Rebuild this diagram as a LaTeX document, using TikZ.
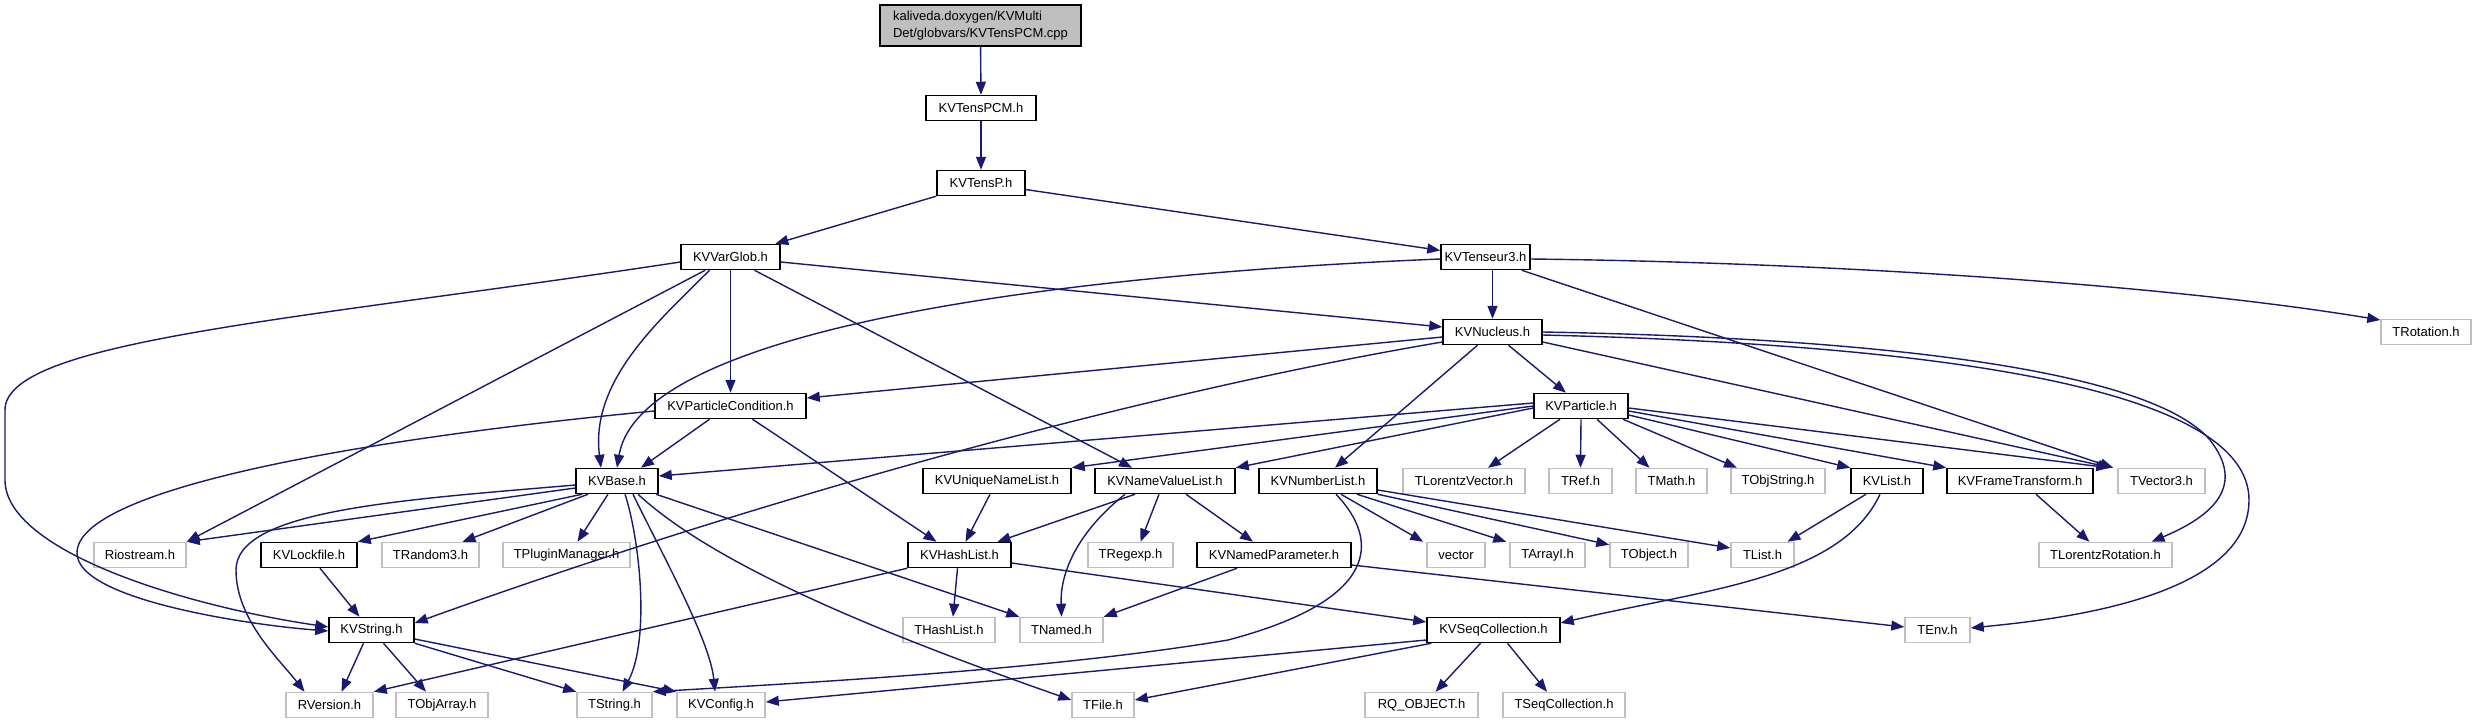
\documentclass[tikz,border=0pt]{standalone}
\usepackage{fontspec}
\setmainfont{Liberation Sans}
\usetikzlibrary{arrows.meta}
\definecolor{edgeblue}{RGB}{25,25,112}
\definecolor{boxgray}{RGB}{191,191,191}
\newcommand\nodefont{\fontsize{13}{17}\selectfont}
\tikzset{
  box/.style={draw=black, fill=white, line width=1.5pt, minimum height=25pt, inner sep=0pt, font=\nodefont},
  gbox/.style={box, draw=boxgray},
  rootbox/.style={box, fill=boxgray, align=left, minimum height=41pt},
  e/.style={draw=edgeblue, line width=1.4pt, -{Triangle[length=13pt,width=10pt]}}
}
\begin{document}
\begin{tikzpicture}[x=1pt,y=-1pt]
\useasboundingbox (0,0) rectangle (2477,724);
% row 0-5
\node[rootbox, minimum width=201pt] (cpp) at (980.5,25.5) {kaliveda.doxygen/KVMulti\\Det/globvars/KVTensPCM.cpp};
\node[box, minimum width=110pt] (tenspcm) at (981,108) {KVTensPCM.h};
\node[box, minimum width=88pt] (tensp) at (981,183) {KVTensP.h};
\node[box, minimum width=99pt] (varglob) at (730.5,257) {KVVarGlob.h};
\node[box, minimum width=89pt] (tenseur3) at (1485.5,257) {KVTenseur3.h};
\node[box, minimum width=99pt] (nucleus) at (1492.5,332) {KVNucleus.h};
\node[gbox, minimum width=90pt] (trot) at (2426,332) {TRotation.h};
\node[box, minimum width=151pt] (kvpc) at (730.5,406) {KVParticleCondition.h};
\node[box, minimum width=94pt] (particle) at (1581,406) {KVParticle.h};
% row 6
\node[box, minimum width=82pt] (kvbase) at (617,481) {KVBase.h};
\node[box, minimum width=148pt] (uniq) at (997,481) {KVUniqueNameList.h};
\node[box, minimum width=140pt] (namevalue) at (1165,481) {KVNameValueList.h};
\node[box, minimum width=118pt] (numberlist) at (1318,481) {KVNumberList.h};
\node[gbox, minimum width=122pt] (tlv) at (1464,481) {TLorentzVector.h};
\node[gbox, minimum width=63pt] (tref) at (1580.5,481) {TRef.h};
\node[gbox, minimum width=71pt] (tmath) at (1671.5,481) {TMath.h};
\node[gbox, minimum width=94pt] (tobjstring) at (1778,481) {TObjString.h};
\node[box, minimum width=72pt] (kvlist) at (1887,481) {KVList.h};
\node[box, minimum width=146pt] (frame) at (2020,481) {KVFrameTransform.h};
\node[gbox, minimum width=87pt] (tvector3) at (2161.5,481) {TVector3.h};
% row 7
\node[gbox, minimum width=92pt] (riostream) at (140,555) {Riostream.h};
\node[box, minimum width=96pt] (lockfile) at (309,555) {KVLockfile.h};
\node[gbox, minimum width=97pt] (trandom3) at (430.5,555) {TRandom3.h};
\node[gbox, minimum width=127pt] (tpm) at (566.5,555) {TPluginManager.h};
\node[box, minimum width=103pt] (hashlist) at (959.5,555) {KVHashList.h};
\node[gbox, minimum width=85pt] (tregexp) at (1130.5,555) {TRegexp.h};
\node[box, minimum width=154pt] (namedparam) at (1274,555) {KVNamedParameter.h};
\node[gbox, minimum width=58pt] (vector) at (1456,555) {vector};
\node[gbox, minimum width=75pt] (tarrayi) at (1547.5,555) {TArrayI.h};
\node[gbox, minimum width=78pt] (tobject) at (1649,555) {TObject.h};
\node[gbox, minimum width=63pt] (tlist) at (1762.5,555) {TList.h};
\node[gbox, minimum width=133pt] (tlr) at (2105.5,555) {TLorentzRotation.h};
% row 8
\node[box, minimum width=85pt] (kvstring) at (371.5,630) {KVString.h};
\node[gbox, minimum width=92pt] (thashlist) at (949,630) {THashList.h};
\node[gbox, minimum width=83pt] (tnamed) at (1061.5,630) {TNamed.h};
\node[box, minimum width=133pt] (kvseq) at (1493.5,630) {KVSeqCollection.h};
\node[gbox, minimum width=65pt] (tenv) at (1937.5,630) {TEnv.h};
% row 9
\node[gbox, minimum width=87pt] (rversion) at (329.5,705) {RVersion.h};
\node[gbox, minimum width=92pt] (tobjarray) at (442,705) {TObjArray.h};
\node[gbox, minimum width=75pt] (tstring) at (614.5,705) {TString.h};
\node[gbox, minimum width=88pt] (kvconfig) at (721,705) {KVConfig.h};
\node[gbox, minimum width=62pt] (tfile) at (1103,705) {TFile.h};
\node[gbox, minimum width=113pt] (rq) at (1421.5,705) {RQ\_OBJECT.h};
\node[gbox, minimum width=122pt] (tseq) at (1564,705) {TSeqCollection.h};

% edges
\draw[e] (cpp) -- (tenspcm);
\draw[e] (tenspcm) -- (tensp);
\draw[e] (tensp) -- (varglob);
\draw[e] (tensp) -- (tenseur3);
% KVVarGlob
\draw[e] ([yshift=-5pt]varglob.west) .. controls (300,320) and (5,340) .. (5,410) -- (5,480) .. controls (5,550) and (180,605) .. ([yshift=3pt]kvstring.west);
\draw[e] (varglob) -- (riostream.north east);
\draw[e] ([xshift=-21pt]varglob.south) .. controls (660,320) and (590,380) .. ([xshift=-16pt]kvbase.north);
\draw[e] (varglob) -- (kvpc);
\draw[e] ([xshift=24pt]varglob.south) -- ([xshift=-33pt]namevalue.north);
\draw[e] ([yshift=-5pt]varglob.east) -- ([yshift=5pt]nucleus.west);
% KVTenseur3
\draw[e] ([xshift=7pt]tenseur3.south) -- (nucleus.north);
\draw[e] ([yshift=-2pt]tenseur3.east) .. controls (1800,262) and (2150,282) .. ([yshift=12pt]trot.west);
\draw[e] ([xshift=-9pt]tenseur3.south east) -- ([xshift=-4pt]tvector3.north west);
\draw[e] ([yshift=-2pt]tenseur3.west) .. controls (1050,275) and (640,330) .. (kvbase.north);
% KVNucleus
\draw[e] ([yshift=-5pt]nucleus.west) -- ([yshift=8pt]kvpc.east);
\draw[e] ([yshift=-10pt]nucleus.west) .. controls (1100,400) and (700,520) .. ([yshift=7pt]kvstring.east);
\draw[e] ([xshift=-15pt]nucleus.south) -- ([xshift=17pt]numberlist.north);
\draw[e] ([xshift=16pt]nucleus.south) -- ([xshift=-15pt]particle.north);
\draw[e] ([yshift=-10pt]nucleus.east) -- ([xshift=-6pt]tvector3.north west);
\draw[e] (nucleus.east) .. controls (1880,338) and (2150,370) .. (2210,440) .. controls (2245,485) and (2215,515) .. ([xshift=46pt]tlr.north);
\draw[e] ([yshift=-3pt]nucleus.east) .. controls (1950,345) and (2249,390) .. (2249,500) .. controls (2249,600) and (2050,620) .. ([yshift=2pt]tenv.east);
% KVParticleCondition
\draw[e] ([xshift=-21pt]kvpc.south) -- ([xshift=24pt]kvbase.north);
\draw[e] ([yshift=-5pt]kvpc.west) .. controls (350,440) and (77,490) .. (77,553) .. controls (77,600) and (250,625) .. ([yshift=-1pt]kvstring.west);
\draw[e] ([xshift=22pt]kvpc.south) -- ([xshift=-23pt]hashlist.north);
% KVParticle
\draw[e] ([yshift=3pt]particle.west) -- ([yshift=5pt]kvbase.east);
\draw[e] (particle.west) -- (uniq.north east);
\draw[e] ([yshift=-2pt]particle.west) -- (namevalue.north east);
\draw[e] ([xshift=-21pt]particle.south) -- ([xshift=24pt]tlv.north);
\draw[e] (particle.south) -- (tref.north);
\draw[e] ([xshift=16pt]particle.south) -- ([xshift=-22pt]tmath.north);
\draw[e] ([xshift=42pt]particle.south) -- ([xshift=-41pt]tobjstring.north);
\draw[e] ([yshift=-9pt]particle.east) -- (kvlist.north west);
\draw[e] ([yshift=-5pt]particle.east) -- (frame.north west);
\draw[e] ([yshift=-2pt]particle.east) -- ([xshift=-8pt]tvector3.north west);
% KVBase
\draw[e] ([yshift=-7pt]kvbase.west) -- (riostream.north east);
\draw[e] ([yshift=-4pt]kvbase.west) .. controls (400,500) and (236,510) .. (236,570) .. controls (236,620) and (280,660) .. ([xshift=-25pt]rversion.north);
\draw[e] ([xshift=-35pt]kvbase.south) -- (lockfile.north east);
\draw[e] ([xshift=-29pt]kvbase.south) -- ([xshift=32pt]trandom3.north);
\draw[e] ([xshift=-9pt]kvbase.south) -- ([xshift=11pt]tpm.north);
\draw[e] ([xshift=8pt]kvbase.south) .. controls (640,540) and (650,640) .. ([xshift=8pt]tstring.north);
\draw[e] ([xshift=16pt]kvbase.south) .. controls (660,550) and (710,640) .. ([xshift=-6pt]kvconfig.north);
\draw[e] ([xshift=21pt]kvbase.south) .. controls (720,570) and (900,640) .. ([yshift=5pt]tfile.west);
\draw[e] ([xshift=39pt]kvbase.south) -- (tnamed.north west);
% KVLockfile, KVString
\draw[e] ([xshift=11pt]lockfile.south) -- ([xshift=-12pt]kvstring.north);
\draw[e] ([xshift=-8pt]kvstring.south) -- ([xshift=12pt]rversion.north);
\draw[e] ([xshift=12pt]kvstring.south) -- ([xshift=-16pt]tobjarray.north);
\draw[e] (kvstring.south east) -- (tstring.north west);
\draw[e] ([yshift=-9pt]kvstring.east) -- (kvconfig.north west);
% KVUniqueNameList, KVNameValueList
\draw[e] ([xshift=-7pt]uniq.south) -- ([xshift=6pt]hashlist.north);
\draw[e] ([xshift=-30pt]namevalue.south) -- ([xshift=38pt]hashlist.north);
\draw[e] ([xshift=-40pt]namevalue.south) .. controls (1080,530) and (1060,570) .. (tnamed.north);
\draw[e] ([xshift=-6pt]namevalue.south) -- ([xshift=10pt]tregexp.north);
\draw[e] ([xshift=21pt]namevalue.south) -- ([xshift=-21pt]namedparam.north);
% KVNumberList
\draw[e] ([xshift=23pt]numberlist.south) -- ([xshift=-3pt]vector.north west);
\draw[e] ([xshift=39pt]numberlist.south) -- ([xshift=-3pt]tarrayi.north west);
\draw[e] (numberlist.south east) -- ([yshift=-3pt]tobject.north west);
\draw[e] ([yshift=-9pt]numberlist.east) -- ([yshift=7pt]tlist.west);
\draw[e] ([xshift=18pt]numberlist.south) .. controls (1380,540) and (1380,600) .. (1228,640) .. controls (1050,670) and (800,683) .. (tstring.north east);
% KVHashList
\draw[e] ([xshift=-2pt]hashlist.south) -- ([xshift=4pt]thashlist.north);
\draw[e] ([yshift=-8pt]hashlist.east) -- ([yshift=8pt]kvseq.west);
\draw[e] (hashlist.south west) -- (rversion.north east);
% KVNamedParameter
\draw[e] ([xshift=-37pt]namedparam.south) -- (tnamed.north east);
\draw[e] ([yshift=-10pt]namedparam.east) -- ([yshift=3pt]tenv.west);
% KVList, KVFrameTransform
\draw[e] ([xshift=-21pt]kvlist.south) -- ([xshift=25pt]tlist.north);
\draw[e] ([xshift=-7pt]kvlist.south) .. controls (1840,580) and (1700,590) .. ([yshift=7pt]kvseq.east);
\draw[e] ([xshift=16pt]frame.south) -- ([xshift=-16pt]tlr.north);
% KVSeqCollection
\draw[e] ([xshift=-13pt]kvseq.south) -- ([xshift=14pt]rq.north);
\draw[e] ([xshift=14pt]kvseq.south) -- ([xshift=-17pt]tseq.north);
\draw[e] ([xshift=5pt]kvseq.south west) -- ([yshift=5pt]tfile.east);
\draw[e] ([yshift=-10pt]kvseq.west) -- ([yshift=3pt]kvconfig.east);
\end{tikzpicture}
\end{document}
